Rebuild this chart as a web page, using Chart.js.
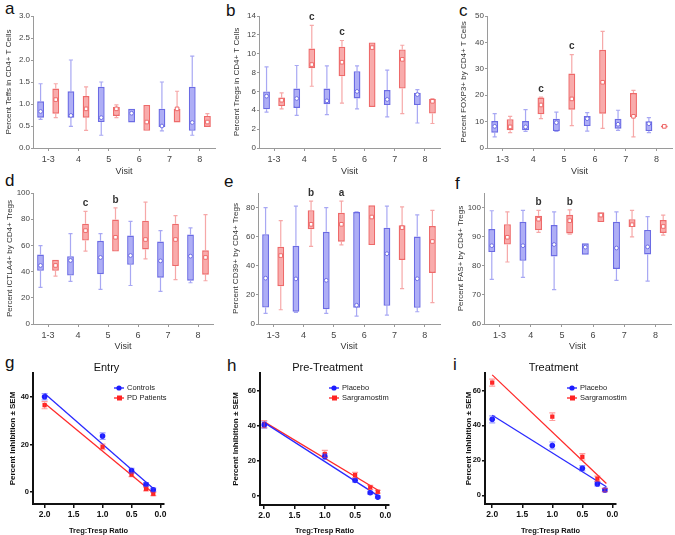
<!DOCTYPE html>
<html>
<head>
<meta charset="utf-8">
<script src="https://cdn.jsdelivr.net/npm/chart.js@4.4.1/dist/chart.umd.min.js"></script>
<style>
  body { margin: 0; background: #fff; width: 675px; height: 535px; position: relative; overflow: hidden; font-family: "Liberation Sans", Arial, sans-serif; }
  canvas { position: absolute; }
  .tag { position: absolute; font-size: 17px; line-height: 1; color: #111; }
</style>
</head>
<body>
<div class="tag" style="left:5px;top:0px">a</div>
<div class="tag" style="left:226px;top:2px">b</div>
<div class="tag" style="left:459px;top:2px">c</div>
<div class="tag" style="left:5px;top:172px">d</div>
<div class="tag" style="left:224px;top:173px">e</div>
<div class="tag" style="left:455px;top:175px">f</div>
<div class="tag" style="left:5px;top:354px">g</div>
<div class="tag" style="left:227px;top:357px">h</div>
<div class="tag" style="left:453px;top:356px">i</div>

<canvas id="chartA"></canvas>
<canvas id="chartB"></canvas>
<canvas id="chartC"></canvas>
<canvas id="chartD"></canvas>
<canvas id="chartE"></canvas>
<canvas id="chartF"></canvas>
<canvas id="chartG"></canvas>
<canvas id="chartH"></canvas>
<canvas id="chartI"></canvas>

<script>
// visits on the x axis of panels a-f
const visits = ['1-3', '4', '5', '6', '7', '8'];

// each row: [whisker low, box low, marker, box high, whisker high]
const teffPlacebo = [[0.65, 0.69, 0.83, 1.06, 1.46], [0.49, 0.69, 0.74, 1.29, 2.0], [0.29, 0.59, 0.69, 1.39, 1.5],
  [0.58, 0.58, 0.79, 0.89, 0.89], [0.39, 0.48, 0.5, 0.89, 1.5], [0.29, 0.39, 0.58, 1.39, 2.09]];
const teffSargra = [[0.69, 0.78, 1.1, 1.35, 1.46], [0.4, 0.69, 0.89, 1.18, 1.39], [0.69, 0.73, 0.89, 0.93, 0.98],
  [0.39, 0.39, 0.59, 0.98, 0.98], [0.58, 0.58, 0.89, 0.89, 1.29], [0.48, 0.48, 0.59, 0.73, 0.78]];
const teffSig = ['', '', '', '', '', ''];
const teffTicks = [0, 0.5, 1, 1.5, 2, 2.5, 3];

const tregPlacebo = [[3.8, 4.1, 5.5, 6.0, 8.6], [3.45, 4.25, 5.25, 6.3, 8.75], [3.55, 4.65, 5.0, 6.3, 8.7],
  [4.15, 5.25, 6.0, 8.15, 8.7], [3.3, 4.55, 5.15, 6.15, 8.25], [2.65, 4.55, 5.67, 5.85, 6.2]];
const tregSargra = [[4.15, 4.45, 5.07, 5.35, 5.85], [6.55, 8.45, 8.85, 10.55, 13.0], [4.75, 7.6, 9.1, 10.75, 11.4],
  [4.35, 4.35, 10.65, 11.2, 11.2], [3.65, 6.3, 9.4, 10.45, 10.9], [2.6, 3.65, 4.95, 5.2, 5.25]];
const tregSig = ['', 'c', 'c', '', '', ''];
const tregTicks = [0, 2, 4, 6, 8, 10, 12, 14];

const foxPlacebo = [[4.2, 5.8, 8.2, 10.2, 13.0], [6.3, 6.7, 8.0, 10.2, 14.5], [6.3, 6.4, 9.6, 11.1, 13.6],
  [6.4, 8.3, 11.1, 12.1, 13.4], [6.7, 7.3, 9.0, 11.1, 14.3], [5.8, 6.4, 9.2, 10.1, 11.5]];
const foxSargra = [[5.8, 6.7, 8.0, 10.9, 12.0], [11.1, 12.8, 16.3, 19.1, 19.3], [8.5, 14.5, 18.6, 28.2, 35.4],
  [7.4, 13.0, 24.9, 37.2, 44.2], [4.2, 11.7, 12.0, 20.8, 21.8], [7.6, 7.8, 8.2, 8.5, 8.7]];
const foxSig = ['', 'c', 'c', '', '', ''];
const foxTicks = [0, 10, 20, 30, 40, 50];

const ctlaPlacebo = [[27.9, 40.6, 44.7, 53, 59.9], [32.5, 37, 48.5, 51.8, 69], [26.4, 38, 50.8, 63.5, 69],
  [29.4, 45.2, 52.3, 67.5, 78.4], [24.9, 35.3, 48.2, 62.9, 71.3], [31.5, 33, 51.8, 68.3, 73.4]];
const ctlaSargra = [[36.5, 40.6, 44.7, 49, 49], [55.6, 63.7, 71.3, 76.6, 86], [55.3, 55.3, 66.2, 79.7, 88.6],
  [49.7, 56.9, 64.5, 78.9, 93.1], [33.8, 44.2, 64.5, 76.6, 82.7], [33, 37.6, 50.8, 56.3, 83.5]];
const ctlaSig = ['', 'c', 'b', '', '', ''];
const ctlaTicks = [0, 20, 40, 60, 80, 100];

const cd39Placebo = [[7.3, 11.3, 31.5, 61.7, 80], [8, 8.4, 31, 53.7, 81], [7.3, 10.2, 30, 63.3, 80],
  [5.4, 11.1, 12.9, 76.9, 77.1], [6.1, 12.5, 48.3, 66.2, 81], [8.4, 11.1, 31.1, 60.1, 75]];
const cd39Sargra = [[9.8, 26, 47, 53, 71], [53.3, 65.1, 68.5, 78.2, 84.4], [54.4, 56.5, 68.5, 76.4, 84.4],
  [54.2, 54.2, 73.5, 81.6, 81.6], [24.3, 44, 66.2, 67.8, 80.5], [14.7, 35.1, 56.7, 67.3, 78]];
const cd39Sig = ['', 'b', 'a', '', '', ''];
const cd39Ticks = [0, 20, 40, 60, 80];

const fasPlacebo = [[75.3, 84.7, 86.9, 92.6, 98.9], [76, 81.7, 86.9, 95.1, 99], [71.8, 83.2, 87.3, 94, 98.5],
  [83.8, 83.8, 86.4, 87.7, 87.7], [75, 78.9, 86.1, 95.1, 98.5], [74.7, 83.9, 86.5, 92.3, 96.9]];
const fasSargra = [[81.3, 87.3, 89.8, 94.3, 98.5], [91.5, 92.2, 96, 97.2, 99], [90.9, 91.1, 95.5, 97.5, 99.2],
  [95, 95, 97.4, 98.4, 98.4], [89.9, 93.3, 94.1, 96, 99], [90.5, 91.3, 93.5, 95.7, 97.4]];
const fasSig = ['', 'b', 'b', '', '', ''];
const fasTicks = [60, 70, 80, 90, 100];

// suppression assays (panels g-i)
const ratios = [2, 1, 0.5, 0.25, 0.125];
const ratioTicks = [2, 1.5, 1, 0.5, 0];
const fitEnds = [2, 0.1];
const entryControls = [40, 23.5, 9, 3.2, 1];
const entryControlsSem = [1.3, 1.4, 1, 0.8, 0.7];
const entryPD = [36.5, 19, 7.3, 1.3, -0.8];
const entryPDSem = [1.5, 1.2, 0.8, 0.8, 0.7];
const prePlacebo = [40.5, 22.5, 9, 2, -0.5];
const prePlaceboSem = [1.8, 1.5, 1, 0.8, 0.6];
const preSargra = [41, 24, 12, 5, 2.5];
const preSargraSem = [2, 2, 1.5, 1.2, 0.8];
const trtPlacebo = [43.5, 28.5, 15.5, 6.5, 3];
const trtPlaceboSem = [2, 2, 1.5, 1.2, 1];
const trtSargra = [64.5, 45, 22, 9.5, 3];
const trtSargraSem = [2, 2.2, 1.8, 1.5, 1];

const FONT = '"Liberation Sans", Arial, sans-serif';
Chart.defaults.font.family = FONT;

const BLUE = { fill: 'rgba(125,125,240,0.62)', line: '#6b6be4', whisker: 'rgba(110,110,235,0.6)' };
const RED = { fill: 'rgba(245,120,120,0.62)', line: '#ee6a6a', whisker: 'rgba(240,110,110,0.6)' };

function place(id, left, top, w, h) {
  const c = document.getElementById(id);
  c.width = w; c.height = h;
  c.style.left = left + 'px'; c.style.top = top + 'px';
  c.style.width = w + 'px'; c.style.height = h + 'px';
  return c;
}

// whiskers, marker and letters on top of the floating bars
const boxExtras = {
  id: 'boxExtras',
  afterDatasetsDraw(chart) {
    const ctx = chart.ctx, y = chart.scales.y;
    chart.data.datasets.forEach((ds, i) => {
      chart.getDatasetMeta(i).data.forEach((bar, j) => {
        const [lo, q1, mid, q3, hi] = ds.stats[j];
        const x = bar.x, cap = bar.width * 0.3;
        ctx.save();
        ctx.strokeStyle = ds.whiskerColor;
        ctx.lineWidth = 1.2;
        ctx.beginPath();
        if (hi > q3) {
          ctx.moveTo(x, y.getPixelForValue(hi)); ctx.lineTo(x, y.getPixelForValue(q3));
          ctx.moveTo(x - cap, y.getPixelForValue(hi)); ctx.lineTo(x + cap, y.getPixelForValue(hi));
        }
        if (lo < q1) {
          ctx.moveTo(x, y.getPixelForValue(q1)); ctx.lineTo(x, y.getPixelForValue(lo));
          ctx.moveTo(x - cap, y.getPixelForValue(lo)); ctx.lineTo(x + cap, y.getPixelForValue(lo));
        }
        ctx.stroke();
        const my = y.getPixelForValue(mid);
        ctx.fillStyle = '#fff';
        ctx.strokeStyle = ds.borderColor;
        ctx.lineWidth = 1;
        ctx.beginPath();
        if (ds.marker === 'rect') ctx.rect(x - 1.8, my - 1.8, 3.6, 3.6);
        else ctx.arc(x, my, 1.9, 0, Math.PI * 2);
        ctx.fill(); ctx.stroke();
        if (ds.sig && ds.sig[j]) {
          ctx.fillStyle = '#333';
          ctx.font = 'bold 10px ' + FONT;
          ctx.textAlign = 'center';
          ctx.textBaseline = 'bottom';
          ctx.fillText(ds.sig[j], x, y.getPixelForValue(hi) - 3);
        }
        ctx.restore();
      });
    });
  }
};

function boxChart(id, pos, area, padLeft, yTitle, placebo, sargra, sig, yMin, yMax, yTicks, dec) {
  const canvas = place(id, pos[0], pos[1], pos[2], pos[3]);
  const w = pos[2], h = pos[3];
  const axisColor = '#9a9a9a';
  return new Chart(canvas, {
    type: 'bar',
    data: {
      labels: visits,
      datasets: [
        {
          label: 'Placebo', data: placebo.map(r => [r[1], r[3]]), stats: placebo,
          backgroundColor: BLUE.fill, borderColor: BLUE.line, whiskerColor: BLUE.whisker,
          borderWidth: 1.4, borderSkipped: false, marker: 'circle',
          barPercentage: 0.45, categoryPercentage: 1.0,
        },
        {
          label: 'Sargramostim', data: sargra.map(r => [r[1], r[3]]), stats: sargra, sig: sig,
          backgroundColor: RED.fill, borderColor: RED.line, whiskerColor: RED.whisker,
          borderWidth: 1.4, borderSkipped: false, marker: 'rect',
          barPercentage: 0.45, categoryPercentage: 1.0,
        },
      ],
    },
    options: {
      responsive: false,
      animation: false,
      layout: { padding: { top: area.top, right: w - area.right, left: padLeft, bottom: 0 } },
      plugins: { legend: { display: false }, tooltip: { enabled: false } },
      scales: {
        x: {
          offset: true,
          grid: { offset: false, drawOnChartArea: false, tickLength: 3, color: axisColor },
          border: { color: axisColor },
          ticks: { font: { size: 9 }, color: '#444', padding: 3 },
          title: { display: true, text: 'Visit', font: { size: 9 }, color: '#333', padding: { top: 0, bottom: 3 } },
          afterFit(s) { s.height = h - area.bottom; },
        },
        y: {
          min: yMin, max: yMax,
          afterBuildTicks(s) { s.ticks = yTicks.map(v => ({ value: v })); },
          grid: { drawOnChartArea: false, tickLength: 2, color: axisColor },
          border: { color: axisColor },
          ticks: { font: { size: 8 }, color: '#444', padding: 1, callback: v => v.toFixed(dec) },
          title: { display: true, text: yTitle, font: { size: 8 }, color: '#333', padding: 0 },
          afterFit(s) { s.width = area.left - padLeft; },
        },
      },
    },
    plugins: [boxExtras],
  });
}

boxChart('chartA', [0, 0, 222, 180], { left: 33, top: 16, right: 215, bottom: 148 }, 4,
  'Percent Teffs in CD4+ T Cells', teffPlacebo, teffSargra, teffSig, 0, 3, teffTicks, 1);
boxChart('chartB', [222, 0, 222, 180], { left: 37, top: 16, right: 218, bottom: 148 }, 10,
  'Percent Tregs in CD4+ T Cells', tregPlacebo, tregSargra, tregSig, 0, 14, tregTicks, 0);
boxChart('chartC', [444, 0, 231, 180], { left: 43, top: 16, right: 228, bottom: 148 }, 15,
  'Percent FOXP3+ by CD4+ T Cells', foxPlacebo, foxSargra, foxSig, 0, 50, foxTicks, 0);
boxChart('chartD', [0, 170, 222, 185], { left: 33, top: 23, right: 213, bottom: 154 }, 5,
  'Percent iCTLA4+ by CD4+ Tregs', ctlaPlacebo, ctlaSargra, ctlaSig, 0, 100, ctlaTicks, 0);
boxChart('chartE', [222, 170, 222, 185], { left: 36, top: 23, right: 218, bottom: 154 }, 9,
  'Percent CD39+ by CD4+ Tregs', cd39Placebo, cd39Sargra, cd39Sig, 0, 90, cd39Ticks, 0);
boxChart('chartF', [444, 170, 231, 185], { left: 40, top: 23, right: 227, bottom: 154 }, 12,
  'Percent FAS+ by CD4+ Tregs', fasPlacebo, fasSargra, fasSig, 60, 105, fasTicks, 0);

// least squares line through the points, drawn between fitEnds
function fitLine(xs, ys) {
  const n = xs.length;
  const mx = xs.reduce((a, b) => a + b, 0) / n;
  const my = ys.reduce((a, b) => a + b, 0) / n;
  let sxy = 0, sxx = 0;
  xs.forEach((x, k) => { sxy += (x - mx) * (ys[k] - my); sxx += (x - mx) * (x - mx); });
  const slope = sxy / sxx, icpt = my - slope * mx;
  return fitEnds.map(x => ({ x: x, y: icpt + slope * x }));
}

const errorBars = {
  id: 'errorBars',
  afterDatasetsDraw(chart) {
    const ctx = chart.ctx, y = chart.scales.y;
    chart.data.datasets.forEach((ds, i) => {
      if (!ds.sem) return;
      chart.getDatasetMeta(i).data.forEach((pt, j) => {
        const v = ds.data[j].y, e = ds.sem[j];
        const t = y.getPixelForValue(v + e), b = y.getPixelForValue(v - e);
        ctx.save();
        ctx.strokeStyle = ds.errColor;
        ctx.lineWidth = 1.2;
        ctx.beginPath();
        ctx.moveTo(pt.x, t); ctx.lineTo(pt.x, b);
        ctx.moveTo(pt.x - 3, t); ctx.lineTo(pt.x + 3, t);
        ctx.moveTo(pt.x - 3, b); ctx.lineTo(pt.x + 3, b);
        ctx.stroke();
        ctx.restore();
      });
    });
  }
};

// panel title over the plot area and the small legend inside it
const panelText = {
  id: 'panelText',
  afterDraw(chart, args, opts) {
    const ctx = chart.ctx, a = chart.chartArea;
    ctx.save();
    ctx.fillStyle = '#111';
    ctx.font = '11px ' + FONT;
    ctx.textAlign = 'center';
    ctx.textBaseline = 'middle';
    ctx.fillText(opts.title, (a.left + a.right) / 2 + opts.titleShift, a.top - 5.5);
    ctx.restore();
    let row = 0;
    chart.data.datasets.forEach(ds => {
      if (!ds.legendLabel) return;
      const ty = a.top + 15 + row * 10;
      const tx = a.right - opts.fromRight;
      ctx.save();
      ctx.strokeStyle = ds.borderColor;
      ctx.lineWidth = 1.3;
      ctx.beginPath(); ctx.moveTo(tx - 13, ty); ctx.lineTo(tx - 3, ty); ctx.stroke();
      ctx.fillStyle = ds.backgroundColor;
      if (ds.pointStyle === 'rect') ctx.fillRect(tx - 10, ty - 2.5, 5, 5);
      else { ctx.beginPath(); ctx.arc(tx - 8, ty, 2.6, 0, Math.PI * 2); ctx.fill(); }
      ctx.fillStyle = '#222';
      ctx.font = '7.5px ' + FONT;
      ctx.textBaseline = 'middle';
      ctx.fillText(ds.legendLabel, tx, ty);
      ctx.restore();
      row++;
    });
  }
};

function ratioChart(id, pos, area, padLeft, title, titleShift, xMax, yMax, yTicks, legendFromRight, blue, red) {
  const canvas = place(id, pos[0], pos[1], pos[2], pos[3]);
  const w = pos[2], h = pos[3];
  const pts = (vals) => ratios.map((x, k) => ({ x: x, y: vals[k] }));
  return new Chart(canvas, {
    type: 'scatter',
    data: {
      datasets: [
        {
          legendLabel: blue.label, data: pts(blue.vals), sem: blue.sem,
          backgroundColor: '#1c1cff', borderColor: '#1c1cff', errColor: 'rgba(60,60,255,0.5)',
          pointStyle: 'circle', pointRadius: 2.8, pointBorderWidth: 0,
        },
        {
          legendLabel: red.label, data: pts(red.vals), sem: red.sem,
          backgroundColor: '#ff2222', borderColor: '#ff2222', errColor: 'rgba(255,60,60,0.5)',
          pointStyle: 'rect', pointRadius: 3, pointBorderWidth: 0,
        },
        {
          type: 'line', data: fitLine(ratios, blue.vals), borderColor: '#2a2aff',
          borderWidth: 1.3, pointRadius: 0, fill: false,
        },
        {
          type: 'line', data: fitLine(ratios, red.vals), borderColor: '#ff2a2a',
          borderWidth: 1.3, pointRadius: 0, fill: false,
        },
      ],
    },
    options: {
      responsive: false,
      animation: false,
      layout: { padding: { top: area.top, right: w - area.right, left: padLeft, bottom: 0 } },
      plugins: {
        legend: { display: false },
        tooltip: { enabled: false },
        panelText: { title: title, titleShift: titleShift, fromRight: legendFromRight },
      },
      scales: {
        x: {
          type: 'linear', reverse: true, min: -0.06, max: xMax,
          afterBuildTicks(s) { s.ticks = ratioTicks.map(v => ({ value: v })); },
          grid: { drawOnChartArea: false, tickLength: 4, color: '#111', lineWidth: 1.5 },
          border: { color: '#111', width: 2 },
          ticks: { font: { size: 8.5, weight: 'bold' }, color: '#111', padding: 2, callback: v => v.toFixed(1) },
          title: { display: true, text: 'Treg:Tresp Ratio', font: { size: 7.5, weight: 'bold' }, color: '#111', padding: { top: 0, bottom: 1 } },
          afterFit(s) { s.height = h - area.bottom; },
        },
        y: {
          min: -5, max: yMax,
          afterBuildTicks(s) { s.ticks = yTicks.map(v => ({ value: v })); },
          grid: { drawOnChartArea: false, tickLength: 3, color: '#111', lineWidth: 1.5 },
          border: { color: '#111', width: 2 },
          ticks: { font: { size: 7.5, weight: 'bold' }, color: '#111', padding: 1 },
          title: { display: true, text: 'Percent Inhibition \u00b1 SEM', font: { size: 8, weight: 'bold' }, color: '#111', padding: 0 },
          afterFit(s) { s.width = area.left - padLeft; },
        },
      },
    },
    plugins: [errorBars, panelText],
  });
}

ratioChart('chartG', [0, 350, 222, 186], { left: 33, top: 23, right: 164, bottom: 154 }, 7.5, 'Entry', 8, 2.2, 50, [0, 20, 40], 37,
  { label: 'Controls', vals: entryControls, sem: entryControlsSem },
  { label: 'PD Patients', vals: entryPD, sem: entryPDSem });
ratioChart('chartH', [222, 350, 222, 186], { left: 38, top: 23, right: 167, bottom: 155 }, 9, 'Pre-Treatment', 3, 2.07, 70, [0, 20, 40, 60], 47,
  { label: 'Placebo', vals: prePlacebo, sem: prePlaceboSem },
  { label: 'Sargramostim', vals: preSargra, sem: preSargraSem });
ratioChart('chartI', [444, 350, 231, 186], { left: 41, top: 23, right: 172, bottom: 154 }, 20, 'Treatment', 3, 2.12, 70, [0, 20, 40, 60], 36,
  { label: 'Placebo', vals: trtPlacebo, sem: trtPlaceboSem },
  { label: 'Sargramostim', vals: trtSargra, sem: trtSargraSem });
</script>
</body>
</html>
